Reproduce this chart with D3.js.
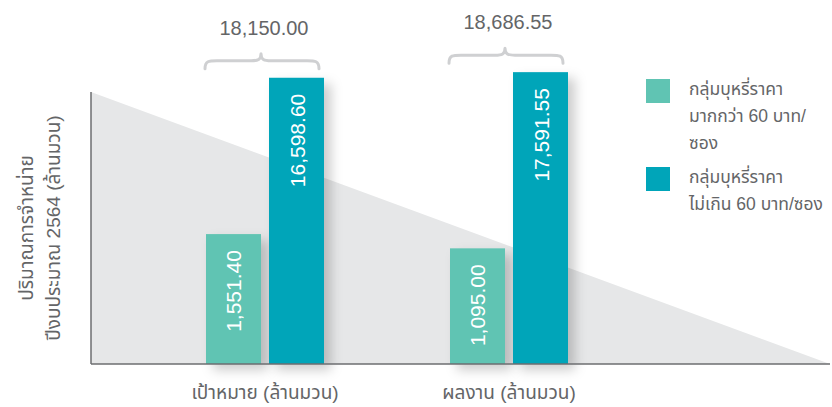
<!DOCTYPE html>
<html>
<head>
<meta charset="utf-8">
<script src="https://cdn.jsdelivr.net/npm/d3@7/dist/d3.min.js"></script>
<style>
  html, body { margin: 0; padding: 0; background: #fff; }
  svg { display: block; font-family: "Liberation Sans", Arial, "Noto Sans Thai", sans-serif; }
</style>
</head>
<body>
<svg id="chart" width="832" height="407"></svg>
<script>
// ---- data ----
const categories = ["เป้าหมาย (ล้านมวน)", "ผลงาน (ล้านมวน)"];
const seriesNames = ["กลุ่มบุหรี่ราคามากกว่า 60 บาท/ซอง", "กลุ่มบุหรี่ราคาไม่เกิน 60 บาท/ซอง"];
const seriesLegendLines = [
  ["กลุ่มบุหรี่ราคา", "มากกว่า 60 บาท/", "ซอง"],
  ["กลุ่มบุหรี่ราคา", "ไม่เกิน 60 บาท/ซอง"]
];
const over60 = [1551.40, 1095.00];
const upTo60 = [16598.60, 17591.55];
const totals = [18150.00, 18686.55];
const yTitleLines = ["ปริมาณการจำหน่าย", "ปีงบประมาณ 2564 (ล้านมวน)"];
const colors = ["#60c4b3", "#00a5b9"];

// ---- layout ----
const svg = d3.select("#chart");
const baseY = 364, axisX = 91, axisTop = 92, axisRight = 830;
const textColor = "#646567";

const fmt = d3.format(",.2f");

const x0 = d3.scaleBand().domain(categories).range([143, 631]).padding(0);
const x1 = d3.scaleBand().domain([0, 1]).range([0, 118]).paddingInner(0.127).paddingOuter(0);
const y = d3.scalePow().exponent(1 / 3).domain([0, 20000]).range([baseY, baseY - 304.6]);

const defs = svg.append("defs");
const f = defs.append("filter").attr("id", "shadow").attr("x", "-30%").attr("y", "-10%").attr("width", "180%").attr("height", "130%");
f.append("feDropShadow").attr("dx", 7).attr("dy", 6).attr("stdDeviation", 6)
  .attr("flood-color", "#000").attr("flood-opacity", 0.2);

// background triangle
svg.append("path")
  .attr("d", `M${axisX},${axisTop} L${axisRight},${baseY} L${axisX},${baseY} Z`)
  .attr("fill", "#e6e7e8");

// bars
const rows = categories.map((c, i) => ({ cat: c, vals: [over60[i], upTo60[i]], total: totals[i] }));

const groups = svg.append("g").selectAll("g.grp").data(rows).join("g")
  .attr("class", "grp")
  .attr("transform", d => `translate(${x0(d.cat) + (x0.bandwidth() - 118) / 2},0)`);

groups.selectAll("rect").data(d => d.vals.map((v, k) => ({ v, k }))).join("rect")
  .attr("x", d => x1(d.k))
  .attr("width", x1.bandwidth())
  .attr("y", d => y(d.v))
  .attr("height", d => baseY - y(d.v))
  .attr("fill", d => colors[d.k])
  .attr("filter", "url(#shadow)");

// axes lines
svg.append("line").attr("x1", axisX).attr("x2", axisRight).attr("y1", baseY).attr("y2", baseY)
  .attr("stroke", "#6d6e70").attr("stroke-width", 1.5);
svg.append("line").attr("x1", axisX).attr("x2", axisX).attr("y1", axisTop).attr("y2", baseY)
  .attr("stroke", "#6d6e70").attr("stroke-width", 1.5);

// value labels inside bars (rotated)
groups.selectAll("text.val").data(d => d.vals.map((v, k) => ({ v, k }))).join("text")
  .attr("class", "val")
  .attr("transform", d => `translate(${x1(d.k) + x1.bandwidth() / 2 + 8},${y(d.v) + 16}) rotate(-90)`)
  .attr("text-anchor", "end")
  .attr("fill", "#fff")
  .attr("font-size", 21)
  .text(d => fmt(d.v));

// braces and totals
groups.each(function (d) {
  const gg = d3.select(this);
  const top = y(d3.max(d.vals));
  const l = x1(0) - 1, r = x1(1) + x1.bandwidth() - 5;
  const m = (l + r) / 2 - 1;
  const yb = top - 9, yh = top - 17, yt = top - 24;
  const path = `M${l},${yb} C${l},${yh} ${l + 4},${yh} ${l + 12},${yh} L${m - 10},${yh} C${m - 3},${yh} ${m},${yh - 1} ${m},${yt}`
    + ` M${m},${yt} C${m},${yh - 1} ${m + 3},${yh} ${m + 10},${yh} L${r - 12},${yh} C${r - 4},${yh} ${r},${yh} ${r},${yb}`;
  gg.append("path").attr("d", path).attr("fill", "none").attr("stroke", "#cfd0d2").attr("stroke-width", 3)
    .attr("stroke-linecap", "round");
  gg.append("text")
    .attr("x", (l + r) / 2 + 2)
    .attr("y", top - 43)
    .attr("text-anchor", "middle")
    .attr("fill", textColor)
    .attr("font-size", 20)
    .text(fmt(d.total));
});

// x category labels
svg.selectAll("text.cat").data(categories).join("text")
  .attr("class", "cat")
  .attr("x", d => x0(d) + x0.bandwidth() / 2)
  .attr("y", 399)
  .attr("text-anchor", "middle")
  .attr("fill", textColor)
  .attr("font-size", 19)
  .text(d => d);

// y title
const yt = svg.append("text")
  .attr("transform", "translate(39,228) rotate(-90)")
  .attr("text-anchor", "middle")
  .attr("fill", textColor)
  .attr("font-size", 19);
yTitleLines.forEach((t, i) => {
  yt.append("tspan").attr("x", 0).attr("y", i === 0 ? -6 : 21).text(t);
});

// legend
const legend = svg.append("g").attr("transform", "translate(646,79)");
const legendY = [0, 88];
seriesNames.forEach((name, i) => {
  const lg = legend.append("g").attr("transform", `translate(0,${legendY[i]})`);
  lg.append("rect").attr("width", 24).attr("height", 24).attr("fill", colors[i]);
  const t = lg.append("text").attr("fill", textColor).attr("font-size", 17.5);
  seriesLegendLines[i].forEach((line, j) => {
    t.append("tspan").attr("x", 43).attr("y", 16 + j * 27).text(line);
  });
});
</script>
</body>
</html>
